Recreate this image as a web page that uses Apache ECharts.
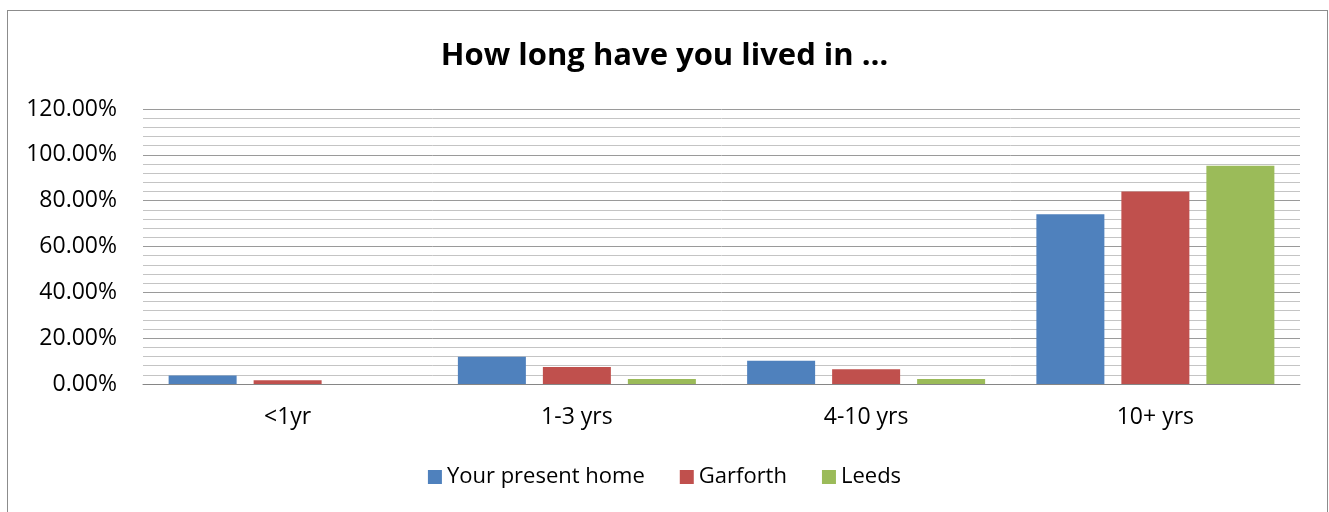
<!DOCTYPE html>
<html>
<head>
<meta charset="utf-8">
<script src="https://cdn.jsdelivr.net/npm/echarts@6/dist/echarts.min.js"></script>
<style>
html,body{margin:0;padding:0;background:#fff;}
#frame{position:absolute;left:7px;top:10px;width:1321px;height:520px;border:1px solid #8c8c8c;box-sizing:border-box;}
#chart{position:absolute;left:0;top:0;width:1329px;height:512px;}
</style>
</head>
<body>
<div id="frame"></div>
<div id="chart"></div>
<script>
const categories = ['<1yr', '1-3 yrs', '4-10 yrs', '10+ yrs'];
const seriesNames = ['Your present home', 'Garforth', 'Leeds'];
const presentHome = [3.7, 11.9, 10.2, 74.1];
const garforth = [1.6, 7.4, 6.4, 84.0];
const leeds = [0, 2.2, 2.2, 95.2];
const yTicks = [0, 20, 40, 60, 80, 100, 120];

const colors = ['#4F81BD', '#C0504D', '#9BBB59'];
const font = '"Open Sans", "Noto Sans", sans-serif';

const chart = echarts.init(document.getElementById('chart'), null, {renderer: 'canvas'});
chart.setOption({
  animation: false,
  backgroundColor: 'transparent',
  color: colors,
  title: {
    text: 'How long have you lived in …',
    left: 'center',
    top: 36,
    textStyle: {fontFamily: font, fontSize: 31, fontWeight: 'bold', color: '#000'}
  },
  legend: {
    data: seriesNames,
    left: 'center',
    top: 461,
    itemWidth: 14,
    itemHeight: 14,
    itemGap: 35,
    icon: 'rect',
    textStyle: {fontFamily: font, fontSize: 22, color: '#000'}
  },
  grid: {left: 143, right: 29, top: 109, bottom: 128, containLabel: false, outerBoundsMode: 'none'},
  xAxis: {
    type: 'category',
    data: categories,
    axisLine: {lineStyle: {color: '#868686', width: 1}},
    axisTick: {show: false},
    axisLabel: {fontFamily: font, fontSize: 23, color: '#000', margin: 22}
  },
  yAxis: {
    type: 'value',
    min: yTicks[0],
    max: yTicks[yTicks.length - 1],
    interval: 20,
    axisLine: {show: false},
    axisTick: {show: false},
    axisLabel: {fontFamily: font, fontSize: 23, color: '#000', margin: 26,
      formatter: v => v.toFixed(2) + '%'},
    splitLine: {lineStyle: {color: '#9a9a9a', width: 1}},
    minorTick: {show: false, splitNumber: 5},
    minorSplitLine: {show: true, lineStyle: {color: '#c4c4c4', width: 1}}
  },
  series: [
    {name: seriesNames[0], type: 'bar', data: presentHome, barWidth: 68, barGap: '25%'},
    {name: seriesNames[1], type: 'bar', data: garforth, barWidth: 68, barGap: '25%'},
    {name: seriesNames[2], type: 'bar', data: leeds, barWidth: 68, barGap: '25%'}
  ]
});
</script>
</body>
</html>
